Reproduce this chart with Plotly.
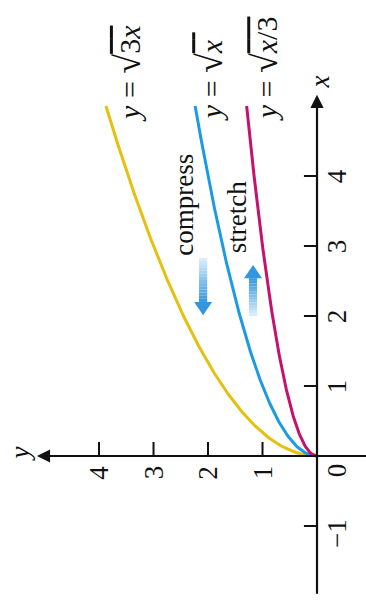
import numpy as np
import plotly.graph_objects as go

# Curves y = sqrt(k x) for x in [0, 5]
x_samples = np.linspace(0, 5, 201)
curve_factors = [3.0, 1.0, 1.0 / 3.0]
curve_colors = ["#e6c010", "#1c9be2", "#c4136e"]
RAD = "<span style='font-size:36px'>√</span>"
curve_labels = [
    "<i>y</i> = " + RAD + "<span style='text-decoration:overline'>3<i>x</i></span>",
    "<i>y</i> = " + RAD + "<span style='text-decoration:overline'><i>x</i> </span>",
    "<i>y</i> = " + RAD + "<span style='text-decoration:overline'><i>x</i>/3</span>",
]
label_yvals = [3.47, 1.96, 0.95]  # horizontal placement of each curve label (in y units)

# Axis ticks
x_ticks = [-1, 0, 1, 2, 3, 4]
x_tick_text = ["−1", "0", "1", "2", "3", "4"]
y_ticks = [1, 2, 3, 4]
y_tick_text = ["1", "2", "3", "4"]

FONT = "Liberation Serif"
FS = 27

fig = go.Figure()

# The figure is drawn turned a quarter turn: plotly's horizontal axis carries
# the y values (increasing to the left), the vertical axis carries the x values.
for k, col in zip(curve_factors, curve_colors):
    fig.add_trace(go.Scatter(
        x=np.sqrt(k * x_samples), y=x_samples, mode="lines",
        line=dict(color=col, width=3), hoverinfo="skip", showlegend=False))

shapes = []
ann = []

# Axes with arrowheads
ann.append(dict(x=0, y=5.16, ax=0, ay=-1.99, xref="x", yref="y", axref="x", ayref="y",
                showarrow=True, arrowhead=2, arrowsize=1.2, arrowwidth=2.2,
                arrowcolor="#111", text=""))
ann.append(dict(x=5.14, y=0, ax=-0.95, ay=0, xref="x", yref="y", axref="x", ayref="y",
                showarrow=True, arrowhead=2, arrowsize=1.2, arrowwidth=2.2,
                arrowcolor="#111", text=""))

# Tick marks
for t in x_ticks:
    if t == 0:
        continue
    shapes.append(dict(type="line", x0=0, x1=0.24, y0=t, y1=t,
                       line=dict(color="#111", width=2)))
for t in y_ticks:
    shapes.append(dict(type="line", x0=t, x1=t, y0=0, y1=0.2,
                       line=dict(color="#111", width=2)))

# Tick labels
for t, s in zip(x_ticks, x_tick_text):
    yy = t
    if t == 0:
        yy = -0.2
    elif t < 0:
        yy = t - 0.11
    ann.append(dict(x=-0.37, y=yy, text=s, showarrow=False, textangle=-90,
                    font=dict(family=FONT, size=FS, color="#111")))
for t, s in zip(y_ticks, y_tick_text):
    ann.append(dict(x=t, y=-0.24, text=s, showarrow=False, textangle=-90,
                    font=dict(family=FONT, size=FS, color="#111")))

# Axis names
ann.append(dict(x=-0.06, y=5.34, text="<i>x</i>", showarrow=False, textangle=-90,
                font=dict(family=FONT, size=FS, color="#111")))
ann.append(dict(x=5.45, y=0.02, text="<i>y</i>", showarrow=False, textangle=-90,
                font=dict(family=FONT, size=FS, color="#111")))

# Curve labels
for s, yv in zip(curve_labels, label_yvals):
    ann.append(dict(x=yv, y=4.75, text=s, showarrow=False, textangle=-90,
                    yanchor="bottom", xanchor="center",
                    font=dict(family=FONT, size=30, color="#111")))

# Words next to the arrows
ann.append(dict(x=2.44, y=3.59, text="compress", showarrow=False, textangle=-90,
                font=dict(family=FONT, size=FS, color="#111")))
ann.append(dict(x=1.47, y=3.41, text="stretch", showarrow=False, textangle=-90,
                font=dict(family=FONT, size=FS, color="#111")))


def mix(c0, c1, f):
    return "rgb(%d,%d,%d)" % tuple(round(a + (b - a) * f) for a, b in zip(c0, c1))


pale = (222, 238, 250)
deep = (52, 150, 222)


def gradient_arrow(xc, y_tail, y_neck, y_tip, half_shaft, half_head, n=14):
    # shaft as stacked slices fading from pale (tail) to deep (neck)
    for i in range(n):
        a = y_tail + (y_neck - y_tail) * i / n
        b = y_tail + (y_neck - y_tail) * (i + 1) / n
        shapes.append(dict(type="rect", x0=xc - half_shaft, x1=xc + half_shaft,
                           y0=min(a, b), y1=max(a, b), line=dict(width=0),
                           fillcolor=mix(pale, deep, (i + 0.5) / n), layer="above"))
    path = "M %f,%f L %f,%f L %f,%f Z" % (xc - half_head, y_neck, xc + half_head, y_neck, xc, y_tip)
    shapes.append(dict(type="path", path=path, line=dict(width=0),
                       fillcolor=mix(pale, deep, 1.0), layer="above"))


gradient_arrow(2.09, 2.83, 2.20, 2.01, 0.075, 0.165)
gradient_arrow(1.174, 2.00, 2.54, 2.73, 0.075, 0.165)

fig.update_layout(
    width=366, height=607,
    margin=dict(l=0, r=0, t=0, b=0),
    paper_bgcolor="white", plot_bgcolor="white",
    xaxis=dict(range=[5.817, -0.899], visible=False),
    yaxis=dict(range=[-2.157, 6.514], visible=False),
    shapes=shapes, annotations=ann,
)

fig.write_html("out.html")
